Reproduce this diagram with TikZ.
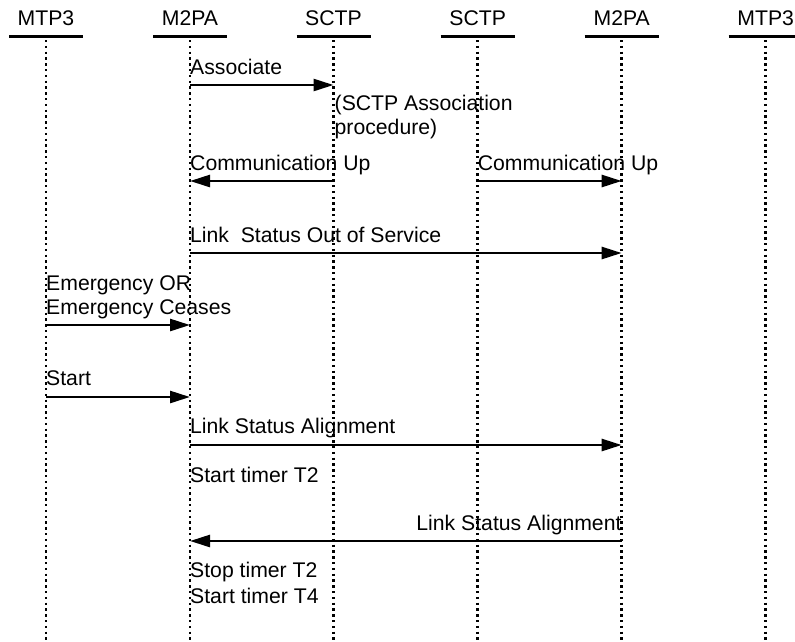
\documentclass[tikz,border=0pt]{standalone}
\usepackage{fontspec}
\setmainfont{Liberation Sans}
\usetikzlibrary{arrows.meta}
\begin{document}
\begin{tikzpicture}[x=1pt,y=-1pt,
  lbl/.style={inner sep=0pt,anchor=base west,font=\fontsize{21.2}{24}\selectfont},
  lblr/.style={inner sep=0pt,anchor=base east,font=\fontsize{21.2}{24}\selectfont},
  head/.style={inner sep=0pt,anchor=base,font=\fontsize{21.2}{24}\selectfont},
  bar/.style={line width=2.6pt},
  life/.style={line width=2.6pt,dash pattern=on 2.4pt off 3.4pt},
  msg/.style={line width=2.6pt,-{Triangle[length=20pt,width=12pt]}}]
\useasboundingbox (0,0) rectangle (795,641);
% lifelines
\foreach \n/\x/\t in {1/46/MTP3,2/190/M2PA,3/333.5/SCTP,4/477.7/SCTP,5/621.7/M2PA,6/765.7/MTP3}{
  \node[head] (h\n) at (\x,25) {\t};
  \coordinate (L\n) at (\x,40);
  \coordinate (B\n) at (\x,641);
  \coordinate (bl\n) at (\x-37,36.5);
  \coordinate (br\n) at (\x+37,36.5);
  \draw[bar] (bl\n) -- (br\n);
  \draw[life] (L\n) -- (B\n);
}
% messages
\node[lbl] (t1) at (L2 |- 0,74) {Associate};
\draw[msg] (L2 |- 0,85) -- (L3 |- 0,85);
\node[lbl] (t2) at ([xshift=1pt]L3 |- 0,110) {(SCTP Association};
\node[lbl] (t3) at ([xshift=1pt]L3 |- 0,134) {procedure)};
\node[lbl] (t4) at (L2 |- 0,170) {Communication Up};
\draw[msg] (L3 |- 0,181) -- (L2 |- 0,181);
\node[lbl] (t5) at (L4 |- 0,170) {Communication Up};
\draw[msg] (L4 |- 0,181) -- (L5 |- 0,181);
\node[lbl] (t6) at (L2 |- 0,242) {Link\ \ Status Out of Service};
\draw[msg] (L2 |- 0,253) -- (L5 |- 0,253);
\node[lbl] (t7) at (L1 |- 0,290) {Emergency OR};
\node[lbl] (t8) at (L1 |- 0,314) {Emergency Ceases};
\draw[msg] (L1 |- 0,325) -- (L2 |- 0,325);
\node[lbl] (t9) at (L1 |- 0,385) {Start};
\draw[msg] (L1 |- 0,397) -- (L2 |- 0,397);
\node[lbl] (t10) at (L2 |- 0,433) {Link Status Alignment};
\draw[msg] (L2 |- 0,445) -- (L5 |- 0,445);
\node[lbl] (t11) at (L2 |- 0,482) {Start timer T2};
\node[lblr] (t12) at (L5 |- 0,530) {Link Status Alignment};
\draw[msg] (L5 |- 0,541) -- (L2 |- 0,541);
\node[lbl] (t13) at (L2 |- 0,577) {Stop timer T2};
\node[lbl] (t14) at (L2 |- 0,603) {Start timer T4};
\end{tikzpicture}
\end{document}
